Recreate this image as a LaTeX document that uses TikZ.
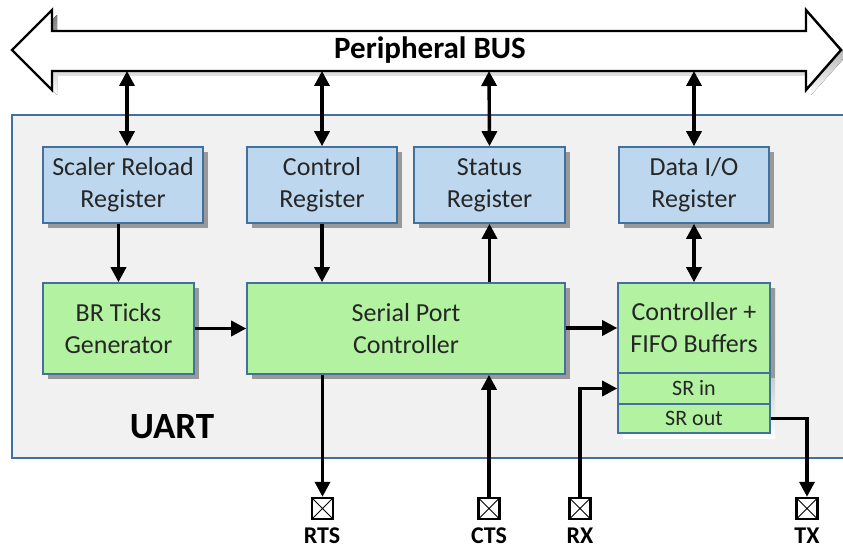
\documentclass[tikz,border=0pt]{standalone}
\usepackage{fontspec}
\setmainfont{Carlito}
\usetikzlibrary{arrows.meta,shadows}
\definecolor{edgeblue}{HTML}{41719C}
\definecolor{regblue}{HTML}{BDD7EE}
\definecolor{blkgreen}{HTML}{B2F2A0}
\definecolor{panel}{HTML}{F1F1F1}
\definecolor{shade}{HTML}{999999}
\tikzset{
  blk/.style={draw=edgeblue, line width=1.6pt, inner sep=0pt, align=center,
    text=black!85, font=\fontsize{26}{32}\selectfont,
    drop shadow={shadow xshift=5pt, shadow yshift=-5pt, fill=shade, opacity=1}},
  reg/.style={blk, fill=regblue},
  ctl/.style={blk, fill=blkgreen},
  srbox/.style={draw=edgeblue, line width=1.6pt, inner sep=0pt, fill=blkgreen,
    text=black!85, font=\fontsize{22}{24}\selectfont,
    minimum width=152pt},
  wire/.style={line width=3.4pt, -{Triangle[length=15pt,width=15pt]}},
  wire2/.style={line width=3.4pt, {Triangle[length=15pt,width=15pt]}-{Triangle[length=15pt,width=15pt]}},
  pin/.style={draw=black, line width=2.4pt, fill=white, minimum size=21pt, inner sep=0pt,
    path picture={\draw[line width=1pt] (path picture bounding box.south west) -- (path picture bounding box.north east)
      (path picture bounding box.north west) -- (path picture bounding box.south east);}},
  pinlbl/.style={anchor=base, inner sep=0pt, font=\bfseries\fontsize{24}{26}\selectfont}
}
\begin{document}
\begin{tikzpicture}[x=1pt,y=-1pt]
\useasboundingbox (0,0) rectangle (843,548);
\clip (0,0) rectangle (843,548);

% UART panel with its shadow
\fill[shade] (17,120) rectangle (855,466);
\draw[edgeblue, line width=1.8pt, fill=panel] (12,115) rectangle (850,458);
\node[font=\bfseries\fontsize{37}{40}\selectfont] (uart) at (172,427) {UART};

% peripheral bus (double block arrow)
\fill[shade, shift={(5,5)}] (12,50) -- (52,10) -- (52,31) -- (806,31) -- (806,10) -- (842,50)
  -- (806,90) -- (806,71) -- (52,71) -- (52,90) -- cycle;
\draw[line width=2.4pt, fill=white, line join=miter] (12,50) -- (52,10) -- (52,31) -- (806,31) -- (806,10) -- (841,50)
  -- (806,90) -- (806,71) -- (52,71) -- (52,90) -- cycle;
\node[font=\bfseries\fontsize{31}{34}\selectfont] (bus) at (430,50) {Peripheral BUS};
\coordinate (b1) at (127,71);
\coordinate (b2) at (322,71);
\coordinate (b3) at (489,71);
\coordinate (b4) at (694,71);

% registers
\node[reg, minimum width=160pt, minimum height=76pt] (scaler) at (123,185) {Scaler Reload\\Register};
\node[reg, minimum width=150pt, minimum height=76pt] (control) at (322,185) {Control\\Register};
\node[reg, minimum width=151pt, minimum height=76pt] (status) at (489.5,185) {Status\\Register};
\node[reg, minimum width=150pt, minimum height=76pt] (dataio) at (694,185) {Data I/O\\Register};

% functional blocks
\node[ctl, minimum width=151pt, minimum height=91pt] (brt) at (118.5,328.5) {BR Ticks\\Generator};
\node[ctl, minimum width=318pt, minimum height=91pt] (spc) at (406,328.5) {Serial Port\\Controller};
\fill[shade] (623,288) rectangle (775,438);
\node[ctl, drop shadow={opacity=0}, minimum width=152pt, minimum height=90pt] (fifo) at (694,328) {Controller +\\FIFO Buffers};
\node[srbox, minimum height=31pt] (srin) at (694,388.5) {SR in};
\node[srbox, minimum height=29pt] (srout) at (694,418.5) {SR out};

% bus connections
\draw[wire2] (b1) -- (b1 |- scaler.north);
\draw[wire2] (b2) -- (control.north);
\draw[wire2] (b3) -- (status.north);
\draw[wire2] (b4) -- (dataio.north);

% internal connections
\draw[wire] (scaler.south -| brt.north) -- (brt.north);
\draw[wire] (control.south) -- (control.south |- spc.north);
\draw[wire] (status.south |- spc.north) -- (status.south);
\draw[wire2] (dataio.south) -- (fifo.north);
\draw[wire] (brt.east) -- (brt.east -| spc.west);
\draw[wire] (spc.east |- fifo.west) -- (fifo.west);

% external pins
\node[pin] (rts) at (322.5,508.5) {};
\node[pin] (cts) at (489,508.5) {};
\node[pin] (rx) at (580,508.5) {};
\node[pin] (tx) at (807,508.5) {};
\node[pinlbl] (rtsl) at (322,543) {RTS};
\node[pinlbl] (ctsl) at (489,543) {CTS};
\node[pinlbl] (rxl) at (580,543) {RX};
\node[pinlbl] (txl) at (807,543) {TX};

\draw[wire] (spc.south -| rts.north) -- (rts.north);
\draw[wire] (cts.north) -- (cts.north |- spc.south);
\draw[wire] (rx.north) -- (rx.north |- srin.west) -- (srin.west);
\draw[wire] (srout.east) -- (srout.east -| tx.north) -- (tx.north);
\end{tikzpicture}
\end{document}
